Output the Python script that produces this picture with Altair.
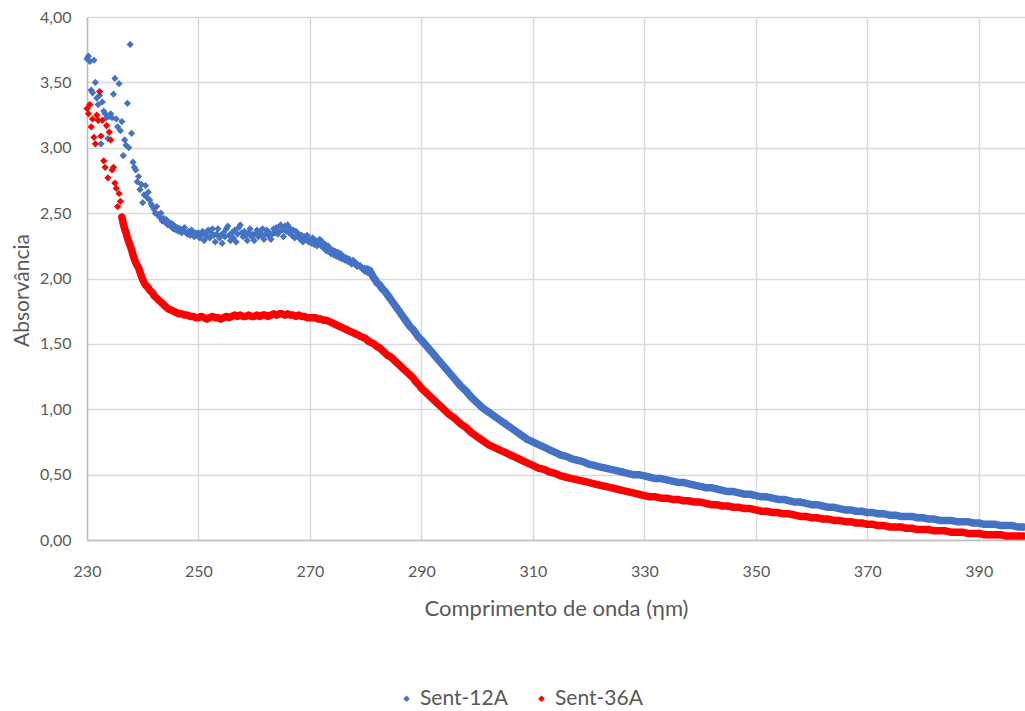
import altair as alt
import pandas as pd

SERIES = ["Sent-12A", "Sent-36A"]
COLORS = ["#4472C4", "#FF0000"]


def grid(start, stop, step):
    """Evenly spaced wavelengths from start up to (not including) stop."""
    n = int(round((stop - start) / step))
    return [round(start + step * i, 2) for i in range(n)]


# ---------------- Sent-12A ----------------
# quarter-nm readings 230.00 ... 281.75
s12_quarter = [
    3.68, 3.70, 3.66, 3.44, 3.42, 3.67, 3.50, 3.38,
    3.33, 3.40, 3.03, 3.35, 3.28, 3.26, 3.23, 3.07,
    3.24, 3.26, 3.23, 3.41, 3.53, 3.22, 3.16, 3.49,
    3.13, 3.20, 2.94, 3.06, 3.02, 3.34, 3.00, 3.79,
    3.11, 2.89, 2.85, 2.83, 2.74, 2.78, 2.68, 2.72,
    2.58, 2.64, 2.71, 2.62, 2.66, 2.60, 2.57, 2.55,
    2.53, 2.50, 2.55, 2.49, 2.47, 2.50, 2.44, 2.46,
    2.43, 2.45, 2.41, 2.43, 2.40, 2.42, 2.38, 2.40,
    2.37, 2.39, 2.36, 2.38, 2.35, 2.37, 2.39, 2.35,
    2.34, 2.36, 2.33, 2.37, 2.34, 2.32, 2.35, 2.33,
    2.35, 2.31, 2.33, 2.36, 2.29, 2.34, 2.32, 2.37,
    2.31, 2.35, 2.38, 2.33, 2.28, 2.34, 2.38, 2.31,
    2.33, 2.27, 2.35, 2.32, 2.38, 2.40, 2.33, 2.29,
    2.35, 2.31, 2.37, 2.28, 2.34, 2.39, 2.41, 2.35,
    2.32, 2.36, 2.33, 2.29, 2.35, 2.38, 2.32, 2.34,
    2.29, 2.34, 2.37, 2.32, 2.35, 2.33, 2.38, 2.30,
    2.34, 2.37, 2.33, 2.35, 2.30, 2.34, 2.38, 2.35,
    2.39, 2.34, 2.36, 2.41, 2.37, 2.32, 2.40, 2.36,
    2.41, 2.35, 2.38, 2.33, 2.37, 2.31, 2.36, 2.33,
    2.34, 2.30, 2.33, 2.28, 2.32, 2.30, 2.33, 2.28,
    2.30, 2.27, 2.31, 2.26, 2.29, 2.25, 2.28, 2.30,
    2.25, 2.28, 2.23, 2.26, 2.21, 2.25, 2.23, 2.19,
    2.22, 2.18, 2.21, 2.17, 2.20, 2.16, 2.19, 2.15,
    2.17, 2.14, 2.16, 2.13, 2.15, 2.12, 2.11, 2.14,
    2.11, 2.12, 2.09, 2.10, 2.10, 2.08, 2.07, 2.08,
    2.06, 2.07, 2.05, 2.06, 2.04, 2.02, 2.00, 1.99,
]
# half-nm readings 282.0 ... 289.5
s12_half = [
    1.97, 1.95, 1.92, 1.90, 1.87, 1.84, 1.81, 1.78,
    1.75, 1.72, 1.69, 1.66, 1.63, 1.61, 1.58, 1.55,
]
# whole-nm readings 290 ... 398
s12_whole = [
    1.53, 1.48, 1.43, 1.38, 1.33, 1.28, 1.23, 1.18, 1.14, 1.09,
    1.05, 1.01, 0.98, 0.95, 0.92, 0.89, 0.86, 0.83, 0.80, 0.77,
    0.75, 0.73, 0.71, 0.69, 0.67, 0.65, 0.64, 0.62, 0.61, 0.60,
    0.58, 0.57, 0.56, 0.55, 0.54, 0.53, 0.52, 0.51, 0.50, 0.50,
    0.49, 0.48, 0.47, 0.47, 0.46, 0.45, 0.44, 0.44, 0.43, 0.42,
    0.41, 0.40, 0.40, 0.39, 0.38, 0.37, 0.37, 0.36, 0.35, 0.35,
    0.34, 0.33, 0.33, 0.32, 0.31, 0.31, 0.30, 0.29, 0.29, 0.28,
    0.27, 0.27, 0.26, 0.25, 0.25, 0.24, 0.23, 0.23, 0.22, 0.22,
    0.21, 0.21, 0.20, 0.20, 0.19, 0.19, 0.18, 0.18, 0.18, 0.17,
    0.17, 0.16, 0.16, 0.15, 0.15, 0.15, 0.14, 0.14, 0.14, 0.13,
    0.13, 0.12, 0.12, 0.12, 0.11, 0.11, 0.11, 0.10, 0.10,
]
wl12 = grid(230, 282, 0.25) + grid(282, 290, 0.5) + list(range(290, 399))

# ---------------- Sent-36A ----------------
# quarter-nm readings 230.00 ... 241.75
s36_quarter = [
    3.30, 3.26, 3.33, 3.16, 3.22, 3.08, 3.03, 3.25,
    3.21, 3.43, 3.09, 3.21, 2.90, 2.85, 3.17, 2.77,
    3.12, 3.06, 2.83, 2.85, 2.73, 2.69, 2.55, 2.65,
    2.59, 2.47, 2.42, 2.38, 2.35, 2.31, 2.28, 2.25,
    2.22, 2.18, 2.15, 2.12, 2.10, 2.08, 2.05, 2.02,
    1.99, 1.97, 1.95, 1.94, 1.93, 1.91, 1.90, 1.89,
]
# half-nm readings 242.0 ... 289.5
s36_half = [
    1.87, 1.85, 1.83, 1.81, 1.79, 1.77, 1.76, 1.75, 1.74, 1.73,
    1.73, 1.72, 1.72, 1.71, 1.71, 1.70,
    1.70, 1.71, 1.70, 1.69, 1.70, 1.71, 1.70, 1.70, 1.69, 1.70,
    1.71, 1.70, 1.71, 1.72, 1.71, 1.72, 1.71, 1.71, 1.72, 1.71,
    1.71, 1.72, 1.71, 1.72, 1.72, 1.71, 1.72, 1.73, 1.72, 1.73,
    1.73, 1.72, 1.73, 1.72, 1.72, 1.71, 1.72, 1.71, 1.71, 1.70,
    1.70, 1.70, 1.70, 1.69, 1.69, 1.68, 1.68, 1.67, 1.66, 1.65,
    1.64, 1.63, 1.62, 1.61, 1.60, 1.59, 1.58, 1.57, 1.56, 1.55,
    1.54, 1.52, 1.51, 1.50, 1.48, 1.47, 1.45, 1.43, 1.41, 1.40,
    1.38, 1.36, 1.34, 1.32, 1.30, 1.28, 1.26, 1.24, 1.21, 1.19,
]
# whole-nm readings 290 ... 398
s36_whole = [
    1.16, 1.12, 1.08, 1.04, 1.00, 0.96, 0.93, 0.89, 0.86, 0.82,
    0.79, 0.76, 0.73, 0.71, 0.69, 0.67, 0.65, 0.63, 0.61, 0.59,
    0.57, 0.55, 0.54, 0.52, 0.51, 0.49, 0.48, 0.47, 0.46, 0.45,
    0.44, 0.43, 0.42, 0.41, 0.40, 0.39, 0.38, 0.37, 0.36, 0.35,
    0.34, 0.33, 0.33, 0.32, 0.32, 0.31, 0.31, 0.30, 0.30, 0.29,
    0.29, 0.28, 0.27, 0.27, 0.26, 0.26, 0.25, 0.25, 0.24, 0.24,
    0.23, 0.22, 0.22, 0.21, 0.21, 0.20, 0.20, 0.19, 0.18, 0.18,
    0.17, 0.17, 0.16, 0.16, 0.15, 0.15, 0.14, 0.14, 0.13, 0.13,
    0.12, 0.12, 0.11, 0.11, 0.10, 0.10, 0.10, 0.09, 0.09, 0.08,
    0.08, 0.08, 0.07, 0.07, 0.07, 0.06, 0.06, 0.06, 0.05, 0.05,
    0.05, 0.04, 0.04, 0.04, 0.04, 0.03, 0.03, 0.03, 0.03,
]
wl36 = grid(230, 242, 0.25) + grid(242, 290, 0.5) + list(range(290, 399))

X_TICKS = list(range(230, 400, 20))
Y_TICKS = [0, 0.5, 1, 1.5, 2, 2.5, 3, 3.5, 4]

rows = []
for name, wls, vals in (
    (SERIES[0], wl12, s12_quarter + s12_half + s12_whole),
    (SERIES[1], wl36, s36_quarter + s36_half + s36_whole),
):
    for w, v in zip(wls, vals):
        rows.append({"wl": w, "abs": v, "series": name})
df = pd.DataFrame(rows)

FONT = "Lato"
TEXT = "#595959"

x_enc = alt.X(
    "wl:Q",
    scale=alt.Scale(domain=[230, 398.3], nice=False, zero=False),
    axis=alt.Axis(
        values=X_TICKS, format="d", title="Comprimento de onda (ηm)",
        labelPadding=23, ticks=False, labelFlush=False,
        titleBaseline="alphabetic", titleY=75, titleFontSize=22,
    ),
)
y_enc = alt.Y(
    "abs:Q",
    scale=alt.Scale(domain=[0, 4], nice=False),
    axis=alt.Axis(
        values=Y_TICKS, labelExpr="replace(format(datum.value, '.2f'), '.', ',')",
        title="Absorvância", labelPadding=16, ticks=False, labelFlush=False,
        titleAngle=-90, titleBaseline="alphabetic", titleX=-59, titleY=273,
        titleAlign="center", titleFontSize=21,
    ),
)

base = alt.Chart(df)

# continuous body of each spectrum once the readings settle down
bands = base.transform_filter(
    "(datum.series == 'Sent-12A' && datum.wl >= 280) || "
    "(datum.series == 'Sent-36A' && datum.wl >= 236.25)"
).transform_calculate(
    trace="datum.series"
).mark_line(strokeWidth=7.5, strokeCap="round", strokeJoin="round").encode(
    x=x_enc, y=y_enc,
    stroke=alt.Stroke("trace:N", scale=alt.Scale(domain=SERIES, range=COLORS), legend=None),
    order="wl:Q",
)

points = base.mark_point(shape="diamond", filled=True, size=52, opacity=1).encode(
    x=x_enc, y=y_enc,
    color=alt.Color(
        "series:N", scale=alt.Scale(domain=SERIES, range=COLORS),
        legend=alt.Legend(
            title=None, orient="none", direction="horizontal",
            legendX=309, legendY=671, symbolType="diamond", symbolSize=45,
            labelFontSize=21, labelFont=FONT, labelColor=TEXT, labelOffset=3,
            columnPadding=23, padding=0, symbolOpacity=1,
        ),
    ),
)

chart = alt.layer(bands, points).resolve_scale(
    color="independent", stroke="independent"
).properties(
    width=938, height=523,
    autosize=alt.AutoSizeParams(type="none"),
    padding={"left": 87, "top": 17, "right": 0, "bottom": 171},
).configure_view(stroke=None).configure_axis(
    domainColor="#bfbfbf", domainWidth=1.5,
    gridColor="#d9d9d9", gridWidth=1.5,
    labelFont=FONT, labelFontSize=16, labelColor=TEXT,
    titleFont=FONT, titleColor=TEXT, titleFontWeight="normal",
).configure_legend(labelFont=FONT)

chart.save("out.html", embed_options={"renderer": "svg", "actions": False})
